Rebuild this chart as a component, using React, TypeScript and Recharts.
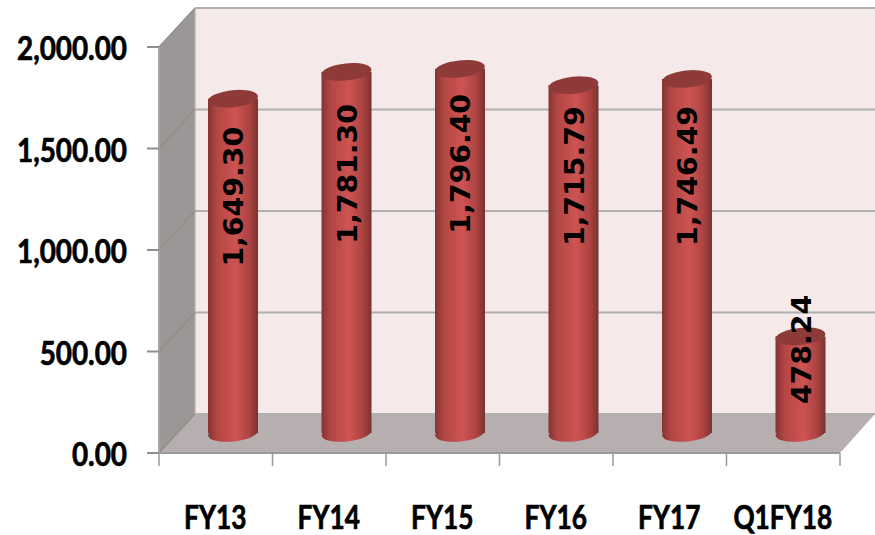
import { Bar, BarChart, CartesianGrid, LabelList, XAxis, YAxis } from "recharts";

const categories = ["FY13", "FY14", "FY15", "FY16", "FY17", "Q1FY18"];
const values = [1649.3, 1781.3, 1796.4, 1715.79, 1746.49, 478.24];
const yTicks = [0, 500, 1000, 1500, 2000];

// how far below the cylinder top each value label sits (Excel placed them by hand)
const labelDrop = [98, 102, 95, 91, 97, 13];

const rows = categories.map((name, i) => ({ name, value: values[i] }));

const W = 875;
const H = 535;
const left = 159;
const right = 840;
const top = 47;
const bottom = 453;
const depthX = 36;
const depthY = 39;
const band = (right - left) / categories.length;

const money = (v: number) =>
  v.toLocaleString("en-US", { minimumFractionDigits: 2, maximumFractionDigits: 2 });

const axisFont = "Lato, sans-serif";

function Walls() {
  const pts = (p: number[][]) => p.map((q) => q.join(",")).join(" ");
  return (
    <svg width={W} height={H} style={{ position: "absolute", left: 0, top: 0 }}>
      <rect x={left + depthX} y={top - depthY} width={W - left - depthX} height={bottom - top} fill="#f5e9e9" />
      <polygon
        points={pts([[left, top], [left + depthX, top - depthY], [left + depthX, bottom - depthY], [left, bottom]])}
        fill="#9c9797"
      />
      <polygon
        points={pts([[left, bottom], [left + depthX, bottom - depthY], [W, bottom - depthY], [right, bottom]])}
        fill="#b7afaf"
      />
      <line x1={left + depthX} y1={top - depthY} x2={left + depthX} y2={bottom - depthY} stroke="#b4b4b4" strokeWidth={1.5} />
    </svg>
  );
}

function GridPair(props: any) {
  const { y1 } = props;
  return (
    <g>
      <line x1={left} y1={y1} x2={left + depthX} y2={y1 - depthY} stroke="#8e8e8a" strokeWidth={1.2} />
      <line x1={left + depthX} y1={y1 - depthY} x2={W} y2={y1 - depthY} stroke="#b0b0ae" strokeWidth={2} />
    </g>
  );
}

function Cylinder(props: any) {
  const { x, y, width, height } = props;
  const cx = x + width / 2 + depthX / 2 - 1;
  const topY = y - depthY / 2;
  const baseY = y + height - depthY / 2 - 0.5;
  const rx = width / 2;
  const ry = 8.5;
  const tilt = -6;
  return (
    <g>
      <ellipse cx={cx} cy={baseY} rx={rx} ry={ry} fill="url(#cyl)" transform={`rotate(${tilt} ${cx} ${baseY})`} />
      <rect x={cx - rx} y={topY} width={width} height={baseY - topY} fill="url(#cyl)" />
      <ellipse cx={cx} cy={topY} rx={rx} ry={ry} fill="#8e3a39" transform={`rotate(${tilt} ${cx} ${topY})`} />
    </g>
  );
}

function ValueLabel(props: any) {
  const { x, y, width, value, index } = props;
  const cx = x + width / 2 + depthX / 2 - 1;
  const cy = y - depthY / 2 + labelDrop[index];
  return (
    <text
      transform={`translate(${cx + 10} ${cy}) rotate(-90) scale(1.05 1)`}
      textAnchor="middle"
      fontFamily="DejaVu Sans, sans-serif"
      fontWeight="bold"
      fontSize={27}
      fill="#000"
    >
      {money(value)}
    </text>
  );
}

function YTick(props: any) {
  const { y, payload } = props;
  return (
    <text
      transform={`translate(127 ${y + 13}) scale(0.87 1)`}
      textAnchor="end"
      fontFamily={axisFont}
      fontWeight="bold"
      fontSize={32}
      fill="#000"
      stroke="#000"
      strokeWidth={0.7}
    >
      {money(payload.value)}
    </text>
  );
}

function XTick(props: any) {
  const { x, payload, index } = props;
  const tickLeft = x - band / 2;
  return (
    <g>
      <line x1={tickLeft} y1={bottom} x2={tickLeft} y2={bottom + 13} stroke="#9a9a9a" strokeWidth={1.5} />
      {index === categories.length - 1 && (
        <line x1={x + band / 2} y1={bottom} x2={x + band / 2} y2={bottom + 13} stroke="#9a9a9a" strokeWidth={1.5} />
      )}
      <text
        transform={`translate(${x - 0.5} 529) scale(0.82 1)`}
        textAnchor="middle"
        fontFamily={axisFont}
        fontWeight="bold"
        fontSize={32}
        fill="#000"
        stroke="#000"
        strokeWidth={0.7}
      >
        {payload.value}
      </text>
    </g>
  );
}

export default function App() {
  return (
    <div style={{ position: "absolute", left: 0, top: 0, width: W, height: H, background: "#fff" }}>
      <Walls />
      <div style={{ position: "absolute", left: 0, top: 0 }}>
        <BarChart
          width={W}
          height={H}
          data={rows}
          margin={{ top, right: W - right, bottom: 0, left: 0 }}
          barCategoryGap={0}
        >
          <defs>
            <linearGradient id="cyl" x1="0" y1="0" x2="1" y2="0">
              <stop offset="0%" stopColor="#843432" />
              <stop offset="18%" stopColor="#b34644" />
              <stop offset="55%" stopColor="#cd5452" />
              <stop offset="82%" stopColor="#ad4341" />
              <stop offset="100%" stopColor="#7a3230" />
            </linearGradient>
          </defs>
          <CartesianGrid vertical={false} horizontal={(p: any) => <GridPair key={p.y1} {...p} />} />
          <XAxis
            dataKey="name"
            height={H - bottom}
            interval={0}
            tickLine={false}
            axisLine={{ stroke: "#9a9a9a", strokeWidth: 2 }}
            tick={XTick}
          />
          <YAxis
            width={left}
            domain={[0, 2000]}
            ticks={yTicks}
            interval={0}
            tickSize={12}
            tickLine={{ stroke: "#8e8e8e", strokeWidth: 2 }}
            axisLine={{ stroke: "#a4a4a4", strokeWidth: 2 }}
            tick={YTick}
          />
          <Bar dataKey="value" barSize={50} shape={Cylinder} isAnimationActive={false}>
            <LabelList dataKey="value" content={ValueLabel} />
          </Bar>
        </BarChart>
      </div>
    </div>
  );
}
